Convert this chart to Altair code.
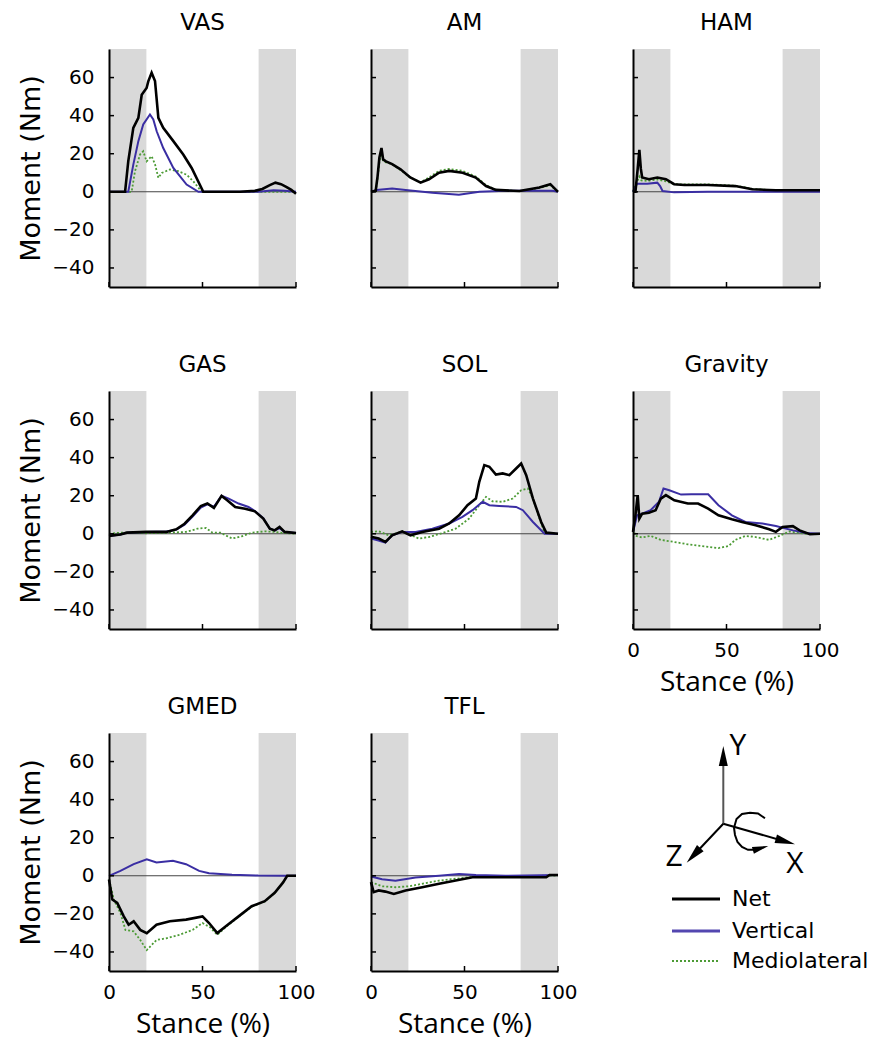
import altair as alt
import pandas as pd

# ---------------- data ----------------
X_TICKS = [0, 50, 100]
Y_TICKS = [-40, -20, 0, 20, 40, 60]
BANDS = [(0, 20), (80, 100)]

VAS_NET = [(0,0),(8.6,0),(10.3,16),(13,33.6),(15.7,38.8),(17.5,51),(20.1,54.5),(21,58),(22.8,62.5),(24.6,58.2),(26.4,38.8),(29,33.6),(34.4,26.6),(39.7,19.6),(44.2,12.5),(50.4,0),(60,0),(70,0),(78,0.5),(82,1.5),(86,3.5),(89,4.8),(92,4),(95,2.5),(97.5,1),(100,-1)]
VAS_VERT = [(0,0),(10.3,0),(13,14.3),(15.7,26.6),(18.3,35.4),(21.9,40.6),(23.7,38),(25.5,31.8),(29,23),(34.4,12.5),(41.5,3.8),(47.8,0),(80,0),(88,0.8),(94,0.6),(100,0)]
VAS_ML = [(0,0),(12.1,0),(13.9,10.8),(16.6,19.6),(18.3,21.3),(20.1,16),(22.8,18.7),(24.6,14.5),(26.4,7.3),(28.2,9.9),(32.6,11.7),(37,10.8),(41.5,9),(45.1,5.5),(49.6,0),(100,0)]

AM_NET = [(0,0),(2.5,0.5),(3.5,8),(4.5,18),(5.6,23),(6.5,17),(8,16),(11.3,14.5),(15.8,11.8),(21,7.5),(26.5,4.8),(31,6.6),(36.4,10),(41.8,11),(49,10),(56,7.5),(61.5,3),(66.8,1),(79.4,0.4),(90,2.3),(95.9,4),(100,0)]
AM_VERT = [(0,0),(3,1),(11.3,1.7),(18.5,1),(32.8,-0.5),(47,-1.5),(58,0),(72,0.5),(97,0.5),(100,0)]
AM_ML = [(0,0),(2.5,0.5),(3.5,7),(4.5,16),(5.6,20),(6.5,16),(8,15.5),(11.3,14.5),(15.8,11.5),(21,7.5),(26.5,5),(31,7.5),(36.4,11),(41.8,12),(49,11),(56,8),(61.5,3.5),(66.8,1),(79.4,0.4),(90,2),(95.9,3.5),(100,0)]

HAM_NET = [(0,0),(1.3,0),(2.5,12),(3.4,22),(4.2,12),(4.9,7.5),(8.5,6.6),(13,7.5),(17.6,6.6),(22,4),(27.5,3.6),(40,3.6),(54.7,3),(63.8,1.3),(76.4,0.8),(100,0.8)]
HAM_VERT = [(0,0),(1.5,3),(2.2,4.2),(7.6,4.2),(13,4.8),(14.5,3),(15.8,0.4),(22,-0.3),(40,0),(100,0)]
HAM_ML = [(0,0),(1.5,4),(2.5,6),(3.4,8),(4.5,6),(7.6,5.7),(13,6.5),(17.6,5.5),(22,4),(27.5,3.9),(40,3.9),(54.7,3.2),(60,2.3),(63.8,1.5),(76.4,0.8),(100,0.8)]

GAS_NET = [(0,-1.1),(6.1,-0.4),(9.6,0.6),(20,1),(30.7,1),(36,2.4),(40.4,5.3),(44.7,9.7),(49.1,14.6),(52.6,15.9),(56.1,13.6),(60.2,19.9),(63.2,17.6),(67.5,14.1),(72.8,13.2),(78,11.8),(82.5,8),(86,2.7),(88.6,1.8),(91.2,3.6),(93.9,1),(100,0.4)]
GAS_VERT = [(0,-1.1),(6.1,-0.4),(9.6,0.6),(20,1),(30.7,1.2),(36,2.2),(40.4,4.8),(44.7,9),(49.1,13.8),(52.6,15.5),(56.1,14.2),(60.2,20),(64,18.5),(69.3,15.9),(74.6,14.1),(78,12),(82.5,8.2),(86,2.7),(88.6,1.8),(91.2,3),(93.9,1),(100,0.4)]
GAS_ML = [(0,0),(6,0.6),(20,0.3),(30,0.5),(41.2,1),(47.4,2.7),(51.8,3.1),(55.3,0.6),(59.6,0.6),(65.8,-2.5),(71,-1.3),(76.3,0.6),(83.3,1.3),(88.6,1),(93.9,0.4),(100,0)]

SOL_NET = [(0,-1.5),(4.1,-2.5),(7.7,-4.3),(11.3,-0.8),(16.7,1.3),(21.1,-0.8),(27.4,1),(36.4,2.7),(41.8,5.4),(47.1,9.7),(51.6,15),(56.1,18.5),(57.9,27.3),(60.6,36.1),(63.3,35.2),(66.8,31.1),(70.4,31.7),(74,30.8),(77.6,34.3),(80.3,36.9),(83,30.8),(86.6,18.5),(91,6.2),(93.7,0.6),(100,0)]
SOL_VERT = [(0,-2.5),(4,-3.5),(7.7,-4.6),(11.3,-0.8),(16.7,1),(23.8,1),(32.8,2.7),(41.8,5.4),(48.9,8.9),(54.3,12.4),(59.7,16.8),(63.3,15),(68.6,14.6),(77.6,14.1),(81.2,12.4),(86.6,6.2),(92.8,0),(100,0)]
SOL_ML = [(0,1),(4.1,1.3),(9.5,-0.8),(16.7,1.2),(25.6,-2.5),(31,-1.7),(38.2,0.4),(45.3,2.7),(52.5,8),(57.9,15),(61.5,19.4),(65,17.1),(70.4,16.8),(75.8,18.5),(80.3,22.9),(83.9,23.8),(86.6,18.5),(90.1,8),(92.8,0.6),(100,0)]

GRAV_NET = [(0,1),(1.3,9.7),(2.5,20.3),(3.4,8),(4.9,10.6),(8.5,11.1),(12.1,12.4),(14.9,18.5),(17.6,20.3),(22.1,17.6),(29.3,15.9),(34.8,15.9),(40.2,13.2),(45.7,9.7),(52.9,7.6),(58.3,6.2),(65.6,4.5),(72.8,2.4),(76.4,1),(80,3.6),(85.5,4),(89.1,1.8),(94.6,-0.2),(100,0)]
GRAV_VERT = [(0,1),(2.2,9.7),(4.9,10.6),(9.4,12.4),(13.9,16.8),(16.3,23.8),(19.4,22.9),(25.7,20.6),(31.2,20.8),(40.2,20.8),(45.7,15),(52.9,9.7),(60.1,6.2),(69.2,5.4),(76.4,4.1),(85.5,1.8),(92.8,0.4),(100,0)]
GRAV_ML = [(0,2.7),(1.3,-1.1),(4.9,-1.9),(9.4,-1.1),(14.9,-3.2),(22.1,-4.3),(29.3,-5.5),(36.6,-6.4),(45.7,-7.5),(51.1,-6.4),(54.7,-3.2),(60.1,-1.1),(65.6,-1.7),(72.8,-3.2),(78.3,-1.1),(83.7,1.2),(89.1,0.4),(94.6,-0.2),(100,0)]

GMED_NET = [(0,-1.9),(1.8,-12.5),(4.4,-14.2),(7.9,-21.3),(10.5,-25.7),(13.2,-23.9),(16.7,-28.4),(20.2,-30.1),(25.4,-25.7),(32.5,-23.9),(41.2,-23),(50,-21.3),(53.5,-24.8),(57.9,-30.1),(62.3,-26.6),(69.3,-21.3),(76.3,-16),(83.3,-13.3),(88.6,-8.9),(93,-3.6),(95.3,0),(100,0)]
GMED_VERT = [(0,0),(6.1,2.6),(13.2,6.1),(20.2,8.7),(25.4,7),(34.2,7.9),(41.2,6.1),(48.2,2.6),(53.5,1.3),(65.8,0.5),(79.8,0.1),(95,0),(100,0)]
GMED_ML = [(0,-1.9),(2.6,-12.5),(6.1,-19.5),(8.8,-28.4),(13.2,-29.2),(16.7,-33.7),(20.2,-39),(25.4,-33.7),(30.7,-32.8),(37.7,-31),(44.7,-28.4),(50,-24.8),(54,-27),(57.9,-31),(62.3,-27),(69.3,-21.5),(76.3,-16.2),(83.3,-13.5),(88.6,-9),(93,-3.7),(95.3,0),(100,0)]

TFL_NET = [(0,-3.3),(1.4,-8.6),(4.1,-7.7),(7.7,-8.3),(12.2,-9.5),(18.5,-7.7),(27.4,-6),(36.4,-4.2),(45.3,-2.5),(54.3,-0.8),(72.2,-0.8),(93.7,-0.8),(95.5,0.4),(100,0.4)]
TFL_VERT = [(0,-0.4),(5.9,-1.8),(13.1,-2.6),(23.8,-0.9),(36.4,0),(47.1,0.9),(56.1,0.4),(72,0),(100,0.4)]
TFL_ML = [(0,-3.3),(5.9,-5.5),(13.1,-6),(20.3,-5.5),(36.4,-2.5),(54,-0.6),(72,-0.4),(100,0.2)]

# (title, net, vertical, mediolateral, show y labels, show x labels)
PANELS = [
    ("VAS", VAS_NET, VAS_VERT, VAS_ML, True, False),
    ("AM", AM_NET, AM_VERT, AM_ML, False, False),
    ("HAM", HAM_NET, HAM_VERT, HAM_ML, False, False),
    ("GAS", GAS_NET, GAS_VERT, GAS_ML, True, False),
    ("SOL", SOL_NET, SOL_VERT, SOL_ML, False, False),
    ("Gravity", GRAV_NET, GRAV_VERT, GRAV_ML, False, True),
    ("GMED", GMED_NET, GMED_VERT, GMED_ML, True, True),
    ("TFL", TFL_NET, TFL_VERT, TFL_ML, False, True),
]

LEGEND_LABELS = ["Net", "Vertical", "Mediolateral"]

# diagram geometry (legend cell, pixel-like units: x 0..187, y 0..238 downward)
DIAG_SHAFTS = [(90.3, 90.7, 90.3, 22, "#555555"), (90.3, 90.7, 58, 125), (90.3, 90.7, 154, 109)]
DIAG_HEADS = [(90.3, 23, 0, 400), (60.5, 122.4, 223, 400), (152.4, 108.5, 106, 400), (127.6, 115.2, 74, 256)]
DIAG_ARC = [(132, 85.3), (125, 80.5), (117, 79.7), (109, 81), (103.5, 86), (101, 94.7), (102, 102), (104.5, 109), (109, 114), (115, 116.8), (122, 116.8), (128, 115.5)]
DIAG_LETTERS = [(105, 13, "Y"), (41, 124, "Z"), (162, 131, "X")]
LEG_Y = [166, 198, 228]

# ---------------- styling ----------------
W, H = 187, 238
NET_C, VERT_C, ML_C = "black", "#3a2ea3", "#4c9b35"
BAND_C = "#d9d9d9"
TICK_FONT = "DejaVu Sans"

xs = alt.Scale(domain=[0, 100], nice=False, zero=False)
ys = alt.Scale(domain=[-50, 75], nice=False, zero=False)


def axes(show_y, show_x):
    xa = alt.Axis(values=X_TICKS, ticks=False, grid=False, domainColor="black", domainWidth=2,
                  labels=show_x, labelFont=TICK_FONT, labelFontSize=20, labelColor="black",
                  labelPadding=11, labelFlush=False, labelOverlap=False,
                  title="Stance (%)" if show_x else None, titleFont="Open Sans",
                  titleFontSize=28, titleFontWeight="normal", titleColor="black",
                  titlePadding=8, zindex=1)
    ya = alt.Axis(values=Y_TICKS, ticks=False, grid=False, domainColor="black", domainWidth=2,
                  labels=show_y, labelFont=TICK_FONT, labelFontSize=20, labelColor="black",
                  labelPadding=15, labelOverlap=False,
                  title="Moment (Nm)" if show_y else None, titleFont=TICK_FONT,
                  titleFontSize=27, titleFontWeight="normal", titleColor="black",
                  titlePadding=6, zindex=1)
    return xa, ya


def pts_df(pts):
    return pd.DataFrame(pts, columns=["x", "y"])


def panel(title, net, vert, ml, show_y, show_x):
    xa, ya = axes(show_y, show_x)
    X = lambda f: alt.X(f, type="quantitative", scale=xs, axis=xa)
    Y = lambda f: alt.Y(f, type="quantitative", scale=ys, axis=ya)
    bands = alt.Chart(pd.DataFrame(BANDS, columns=["x0", "x1"])).mark_rect(color=BAND_C).encode(
        x=X("x0"), x2="x1:Q", y=alt.value(0), y2=alt.value(H))
    zero = alt.Chart(pd.DataFrame({"v": [0]})).mark_rule(color="#444444", strokeWidth=1.1).encode(
        y=Y("v"))
    l_ml = alt.Chart(pts_df(ml)).mark_line(color=ML_C, strokeWidth=1.8, strokeDash=[2, 2]).encode(
        x=X("x"), y=Y("y"))
    l_vert = alt.Chart(pts_df(vert)).mark_line(color=VERT_C, strokeWidth=2).encode(
        x=X("x"), y=Y("y"))
    l_net = alt.Chart(pts_df(net)).mark_line(color=NET_C, strokeWidth=2.6).encode(
        x=X("x"), y=Y("y"))
    yt = alt.Chart(pd.DataFrame({"v": Y_TICKS})).mark_rule(color="black", strokeWidth=1.5).encode(
        y=Y("v"), x=alt.value(0), x2=alt.value(5))
    xt = alt.Chart(pd.DataFrame({"v": X_TICKS})).mark_rule(color="black", strokeWidth=1.5).encode(
        x=X("v"), y=alt.value(H), y2=alt.value(H - 5))
    ttl = alt.Chart(pd.DataFrame({"t": [title]})).mark_text(
        font=TICK_FONT, fontSize=23, color="black", align="center", baseline="top").encode(
        text="t:N", x=alt.value(W / 2), y=alt.value(-37))
    return alt.layer(bands, zero, l_ml, l_vert, l_net, yt, xt, ttl).properties(width=W, height=H)


def legend_cell():
    sx = alt.Scale(domain=[0, W], nice=False, zero=False)
    sy = alt.Scale(domain=[0, H], nice=False, zero=False, reverse=True)
    X = lambda f: alt.X(f, type="quantitative", scale=sx, axis=None)
    Y = lambda f: alt.Y(f, type="quantitative", scale=sy, axis=None)

    sh = pd.DataFrame([s if len(s) == 5 else s + ("black",) for s in DIAG_SHAFTS],
                      columns=["x", "y", "x2", "y2", "c"])
    shafts = alt.Chart(sh).mark_rule(strokeWidth=2).encode(
        x=X("x"), y=Y("y"), x2="x2:Q", y2="y2:Q", color=alt.Color("c:N", scale=None))
    heads = alt.Chart(pd.DataFrame(DIAG_HEADS, columns=["x", "y", "a", "s"])).mark_point(
        shape="M0,-1L0.45,1L-0.45,1Z", filled=True, color="black", opacity=1, strokeWidth=0).encode(
        x=X("x"), y=Y("y"), angle=alt.Angle("a:Q", scale=None), size=alt.Size("s:Q", scale=None))
    arc_df = pd.DataFrame(DIAG_ARC, columns=["x", "y"])
    arc_df["i"] = range(len(arc_df))
    arc = alt.Chart(arc_df).mark_line(color="black", strokeWidth=2).encode(
        x=X("x"), y=Y("y"), order="i:Q")
    letters = alt.Chart(pd.DataFrame(DIAG_LETTERS, columns=["x", "y", "t"])).mark_text(
        font="Open Sans", fontSize=30, color="black", align="center", baseline="middle").encode(
        x=X("x"), y=Y("y"), text="t:N")

    leg_layers = []
    styles = [dict(color=NET_C, strokeWidth=3), dict(color="#5346b0", strokeWidth=3),
              dict(color=ML_C, strokeWidth=2.2, strokeDash=[2, 2])]
    for lab, yy, st in zip(LEGEND_LABELS, LEG_Y, styles):
        d = pd.DataFrame({"x": [39], "x2": [87], "y": [yy], "t": [lab], "tx": [99]})
        leg_layers.append(alt.Chart(d).mark_rule(**st).encode(x=X("x"), x2="x2:Q", y=Y("y")))
        leg_layers.append(alt.Chart(d).mark_text(font=TICK_FONT, fontSize=22, color="black",
                                                 align="left", baseline="middle").encode(
            x=X("tx"), y=Y("y"), text="t:N"))
    return alt.layer(shafts, arc, heads, letters, *leg_layers).properties(width=W, height=H)


charts = [panel(*p) for p in PANELS] + [legend_cell()]

chart = alt.concat(*charts, columns=3, spacing={"row": 104, "column": 75}, bounds="flush").properties(
    padding={"left": 9, "top": 4, "right": 0, "bottom": 3}
).configure_view(stroke=None)

chart.save("out.html", embed_options={"renderer": "svg", "actions": False})
